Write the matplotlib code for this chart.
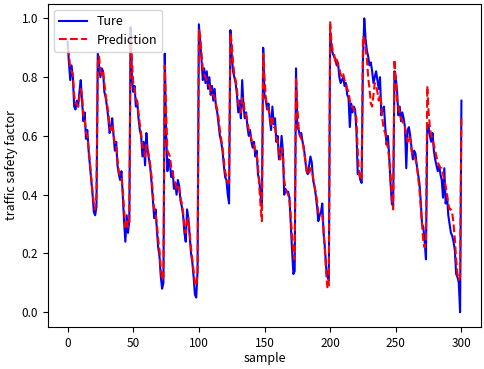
import matplotlib
matplotlib.use("Agg")
import matplotlib.pyplot as plt
import numpy as np

plt.rcParams['font.family'] = ['Noto Sans CJK SC', 'DejaVu Sans']
plt.rcParams['font.size'] = 9

# observed values, one line per cycle
true_vals = [
    0.92, 0.85, 0.79, 0.84, 0.80, 0.70, 0.69, 0.72, 0.70, 0.75, 0.79, 0.72, 0.65, 0.68, 0.59, 0.62, 0.55, 0.50, 0.45, 0.40, 0.34, 0.33, 0.36,
    0.88, 0.84, 0.80, 0.83, 0.82, 0.75, 0.73, 0.70, 0.66, 0.61, 0.63, 0.66, 0.60, 0.55, 0.58, 0.50, 0.47, 0.45, 0.48, 0.40, 0.31, 0.24, 0.33, 0.27, 0.31,
    0.97, 0.80, 0.75, 0.77, 0.70, 0.72, 0.66, 0.62, 0.60, 0.53, 0.58, 0.50, 0.61, 0.55, 0.52, 0.49, 0.44, 0.38, 0.32, 0.35, 0.28, 0.22, 0.19, 0.12, 0.08, 0.10,
    0.88, 0.62, 0.48, 0.52, 0.50, 0.46, 0.48, 0.42, 0.44, 0.40, 0.45, 0.43, 0.38, 0.36, 0.33, 0.27, 0.24, 0.35, 0.32, 0.26, 0.20, 0.17, 0.12, 0.06, 0.05, 0.14,
    0.98, 0.92, 0.86, 0.79, 0.83, 0.78, 0.82, 0.76, 0.80, 0.74, 0.77, 0.72, 0.76, 0.70, 0.68, 0.64, 0.60, 0.58, 0.55, 0.50, 0.46, 0.45, 0.40, 0.37,
    0.96, 0.88, 0.82, 0.80, 0.78, 0.74, 0.68, 0.72, 0.66, 0.79, 0.70, 0.66, 0.68, 0.63, 0.60, 0.62, 0.58, 0.56, 0.58, 0.53, 0.55, 0.47, 0.45, 0.40, 0.35,
    0.90, 0.74, 0.72, 0.69, 0.71, 0.66, 0.62, 0.70, 0.64, 0.66, 0.58, 0.60, 0.52, 0.53, 0.60, 0.55, 0.40, 0.42, 0.41, 0.41, 0.39, 0.30, 0.21, 0.13, 0.14,
    0.83, 0.63, 0.62, 0.60, 0.61, 0.58, 0.56, 0.52, 0.48, 0.47, 0.50, 0.53, 0.51, 0.45, 0.43, 0.40, 0.36, 0.31, 0.33, 0.34, 0.37, 0.27, 0.22, 0.15, 0.12, 0.11,
    0.95, 0.90, 0.88, 0.87, 0.86, 0.84, 0.85, 0.80, 0.78, 0.79, 0.80, 0.77, 0.78, 0.74, 0.73, 0.63, 0.71, 0.68, 0.70, 0.69, 0.62, 0.47, 0.48, 0.45, 0.44,
    0.86, 1.00, 0.93, 0.89, 0.87, 0.84, 0.85, 0.82, 0.78, 0.80, 0.82, 0.79, 0.76, 0.80, 0.67, 0.69, 0.70, 0.63, 0.57, 0.60, 0.53, 0.44, 0.37, 0.36,
    0.82, 0.80, 0.75, 0.67, 0.70, 0.65, 0.68, 0.66, 0.63, 0.49, 0.62, 0.63, 0.60, 0.56, 0.52, 0.55, 0.54, 0.50, 0.47, 0.44, 0.38, 0.30, 0.29, 0.24, 0.18,
    0.64, 0.63, 0.60, 0.58, 0.61, 0.55, 0.52, 0.50, 0.48, 0.50, 0.47, 0.45, 0.39, 0.49, 0.37, 0.40, 0.33, 0.30, 0.27, 0.26, 0.24, 0.21, 0.13, 0.12, 0.10, 0.00,
    0.72,
]

pred_vals = [
    0.90, 0.88, 0.83, 0.82, 0.81, 0.74, 0.71, 0.71, 0.70, 0.73, 0.76, 0.74, 0.67, 0.66, 0.61, 0.60, 0.56, 0.51, 0.46, 0.41, 0.37, 0.35, 0.40,
    0.85, 0.87, 0.82, 0.81, 0.82, 0.78, 0.74, 0.71, 0.68, 0.63, 0.62, 0.64, 0.61, 0.57, 0.57, 0.52, 0.48, 0.46, 0.46, 0.42, 0.35, 0.29, 0.31, 0.29, 0.30,
    0.93, 0.86, 0.78, 0.76, 0.73, 0.71, 0.68, 0.64, 0.61, 0.56, 0.56, 0.53, 0.57, 0.56, 0.53, 0.50, 0.46, 0.40, 0.35, 0.34, 0.30, 0.25, 0.21, 0.15, 0.11, 0.12,
    0.84, 0.70, 0.55, 0.54, 0.53, 0.49, 0.48, 0.45, 0.44, 0.42, 0.43, 0.42, 0.39, 0.37, 0.34, 0.29, 0.27, 0.31, 0.32, 0.27, 0.22, 0.18, 0.14, 0.10, 0.09, 0.13,
    0.96, 0.94, 0.88, 0.83, 0.81, 0.80, 0.79, 0.78, 0.77, 0.76, 0.74, 0.74, 0.73, 0.71, 0.69, 0.66, 0.62, 0.59, 0.56, 0.52, 0.48, 0.46, 0.44, 0.44,
    0.95, 0.92, 0.85, 0.81, 0.79, 0.76, 0.71, 0.70, 0.68, 0.73, 0.72, 0.68, 0.67, 0.65, 0.62, 0.61, 0.59, 0.57, 0.57, 0.55, 0.54, 0.50, 0.43, 0.36, 0.31,
    0.88, 0.80, 0.73, 0.70, 0.69, 0.67, 0.64, 0.66, 0.63, 0.63, 0.59, 0.58, 0.54, 0.52, 0.56, 0.54, 0.45, 0.42, 0.41, 0.40, 0.38, 0.33, 0.26, 0.20, 0.18,
    0.80, 0.70, 0.63, 0.60, 0.59, 0.58, 0.55, 0.52, 0.49, 0.47, 0.47, 0.49, 0.48, 0.46, 0.43, 0.41, 0.38, 0.34, 0.33, 0.33, 0.33, 0.28, 0.21, 0.13, 0.08, 0.09,
    0.99, 0.92, 0.89, 0.88, 0.85, 0.86, 0.84, 0.83, 0.81, 0.80, 0.81, 0.79, 0.78, 0.76, 0.75, 0.72, 0.70, 0.70, 0.69, 0.68, 0.66, 0.55, 0.47, 0.46, 0.45,
    0.94, 0.93, 0.90, 0.86, 0.80, 0.76, 0.71, 0.70, 0.74, 0.78, 0.77, 0.75, 0.72, 0.74, 0.71, 0.65, 0.62, 0.61, 0.58, 0.56, 0.52, 0.47, 0.40, 0.35,
    0.86, 0.79, 0.72, 0.70, 0.68, 0.66, 0.65, 0.64, 0.63, 0.60, 0.58, 0.60, 0.59, 0.55, 0.53, 0.53, 0.52, 0.50, 0.46, 0.42, 0.36, 0.30, 0.24, 0.22, 0.25,
    0.77, 0.68, 0.63, 0.60, 0.59, 0.57, 0.55, 0.53, 0.51, 0.50, 0.49, 0.49, 0.47, 0.45, 0.43, 0.40, 0.37, 0.35, 0.35, 0.34, 0.30, 0.25, 0.18, 0.13, 0.11, 0.12,
    0.67,
]

sample = np.arange(len(true_vals))

fig = plt.figure(figsize=(4.84, 3.69), dpi=100)
ax = fig.add_subplot(111)
fig.subplots_adjust(left=0.099, right=0.994, top=0.99, bottom=0.114)

ax.plot(sample, true_vals, 'b-', linewidth=1.5, label='Ture')
ax.plot(sample, pred_vals, 'r--', linewidth=1.5, label='Prediction')

ax.tick_params(labelsize=8.5)
ax.set_xlabel('sample', labelpad=2)
ax.set_ylabel('traffic safety factor', labelpad=3)
ax.legend(loc='upper left', labelspacing=0.45, handlelength=2.2)

fig.savefig('out.png', dpi=100)
